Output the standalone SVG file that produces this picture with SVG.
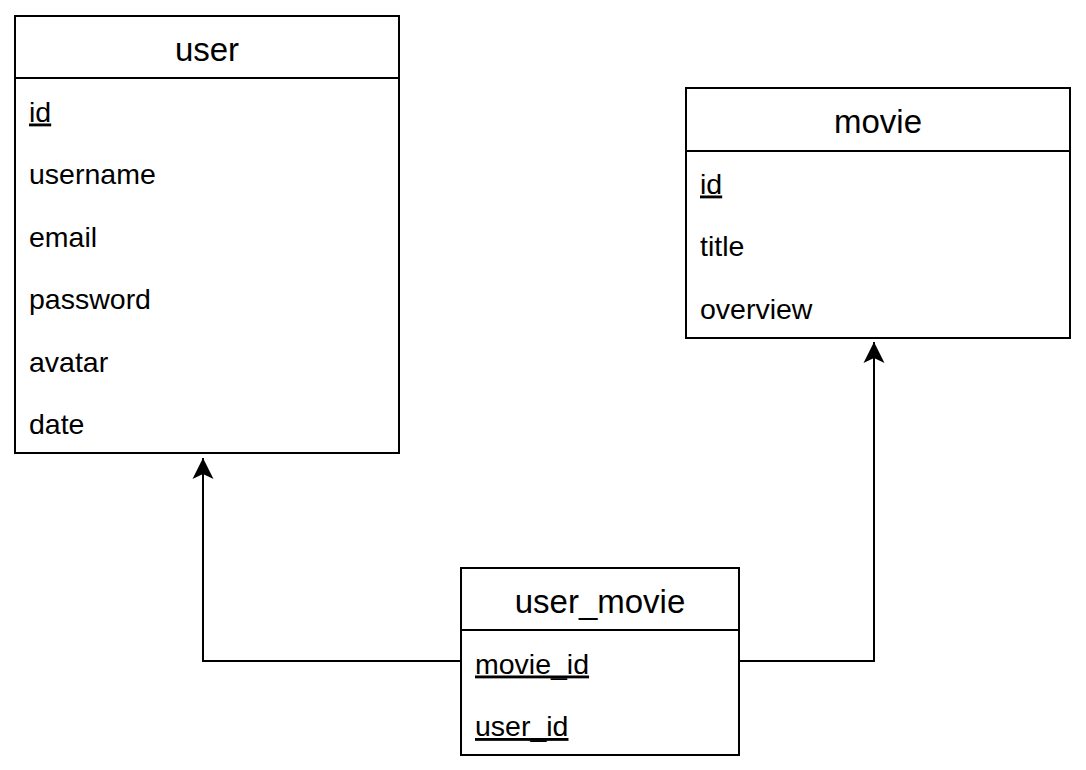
<svg xmlns="http://www.w3.org/2000/svg" width="1086" height="770" viewBox="0 0 1086 770">
<style>
.box{fill:#fff;stroke:#000;stroke-width:2}
.sep{stroke:#000;stroke-width:2}
.title{font-family:"Liberation Sans",Arial,sans-serif;font-size:33px;fill:#000;text-anchor:middle}
.row{font-family:"Liberation Sans",Arial,sans-serif;font-size:28.5px;fill:#000}
.pk{text-decoration:underline}
.edge{fill:none;stroke:#000;stroke-width:2}
</style>
<defs>
<marker id="arr" viewBox="0 0 22 22" refX="21" refY="11" markerWidth="22" markerHeight="22" markerUnits="userSpaceOnUse" orient="auto">
<path d="M21 11 L0 0.5 L5 11 L0 21.5 Z" fill="#000"/>
</marker>
</defs>
<rect width="1086" height="770" fill="#fff"/>
<g id="connectors">
<path class="edge" d="M461 661 H203 V458" marker-end="url(#arr)"/>
<path class="edge" d="M739 661 H874 V342" marker-end="url(#arr)"/>
</g>
<g id="user">
<rect class="box" x="15" y="16" width="384" height="437"/>
<line class="sep" x1="15" y1="78" x2="399" y2="78"/>
<text class="title" x="207" y="61">user</text>
<text class="row pk" x="29" y="121.5">id</text>
<text class="row" x="29" y="184">username</text>
<text class="row" x="29" y="246.5">email</text>
<text class="row" x="29" y="309">password</text>
<text class="row" x="29" y="371.5">avatar</text>
<text class="row" x="29" y="434">date</text>
</g>
<g id="movie">
<rect class="box" x="686" y="88" width="384" height="250"/>
<line class="sep" x1="686" y1="151" x2="1070" y2="151"/>
<text class="title" x="878" y="133">movie</text>
<text class="row pk" x="700" y="193.5">id</text>
<text class="row" x="700" y="256">title</text>
<text class="row" x="700" y="318.5">overview</text>
</g>
<g id="user_movie">
<rect class="box" x="461" y="568" width="278" height="187"/>
<line class="sep" x1="461" y1="630" x2="739" y2="630"/>
<text class="title" x="600" y="613">user_movie</text>
<text class="row pk" x="475" y="673.5">movie_id</text>
<text class="row pk" x="475" y="736">user_id</text>
</g>
</svg>
